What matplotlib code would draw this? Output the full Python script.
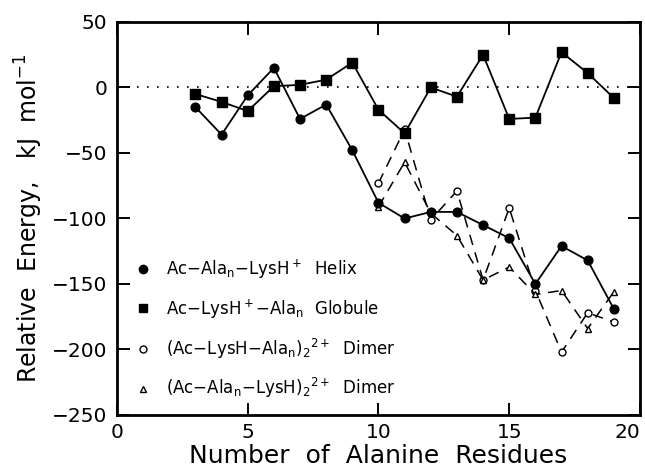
import matplotlib
matplotlib.use("Agg")
import matplotlib.pyplot as plt

plt.rcParams['font.family'] = ['DejaVu Sans']
plt.rcParams['mathtext.fontset'] = 'dejavusans'

# number of alanine residues
n_helix = [3, 4, 5, 6, 7, 8, 9, 10, 11, 12, 13, 14, 15, 16, 17, 18, 19]
e_helix = [-15, -36, -6, 15, -24, -13, -48, -88, -100, -95, -95, -105, -115, -150, -121, -132, -169]

n_globule = [3, 4, 5, 6, 7, 8, 9, 10, 11, 12, 13, 14, 15, 16, 17, 18, 19]
e_globule = [-5, -11, -18, 1, 2, 6, 19, -17, -35, 0, -7, 25, -24, -23, 27, 11, -8]

n_dimer1 = [10, 11, 12, 13, 14, 15, 16, 17, 18, 19]
e_dimer1 = [-73, -32, -101, -79, -147, -92, -155, -202, -172, -179]

n_dimer2 = [10, 11, 12, 13, 14, 15, 16, 17, 18, 19]
e_dimer2 = [-91, -57, -96, -113, -147, -137, -158, -155, -184, -156]

labels = [r'Ac$-$Ala$_\mathrm{n}$$-$LysH$^+$  Helix',
          r'Ac$-$LysH$^+$$-$Ala$_\mathrm{n}$  Globule',
          r'(Ac$-$LysH$-$Ala$_\mathrm{n}$)$_2$$^{2+}$  Dimer',
          r'(Ac$-$Ala$_\mathrm{n}$$-$LysH)$_2$$^{2+}$  Dimer']

fig = plt.figure(figsize=(6.45, 4.72), dpi=100)
ax = fig.add_axes([0.1814, 0.1208, 0.8108, 0.8326])

ax.axhline(0, color='black', linestyle=(0, (1, 5)), linewidth=1.2)

dash = (0, (7, 5))
ax.plot(n_dimer1, e_dimer1, color='black', linestyle=dash, linewidth=1.1,
        marker='o', markersize=5, markerfacecolor='white', markeredgewidth=1)
ax.plot(n_dimer2, e_dimer2, color='black', linestyle=dash, linewidth=1.1,
        marker='^', markersize=5, markerfacecolor='white', markeredgewidth=1)
ax.plot(n_helix, e_helix, color='black', linewidth=1.3, marker='o', markersize=6.3)
ax.plot(n_globule, e_globule, color='black', linewidth=1.3, marker='s', markersize=6.5)

# legend handles (markers only)
h1, = ax.plot([], [], 'o', color='black', markersize=6)
h2, = ax.plot([], [], 's', color='black', markersize=5.5)
h3, = ax.plot([], [], 'o', color='black', markerfacecolor='white', markersize=5)
h4, = ax.plot([], [], '^', color='black', markerfacecolor='white', markersize=5)
ax.legend([h1, h2, h3, h4], labels, loc='lower left', frameon=False,
          fontsize=12, handlelength=1.0, handletextpad=0.9, labelspacing=0.95,
          borderaxespad=0.0, bbox_to_anchor=(0.021, 0.02))

ax.set_xlim(0, 20)
ax.set_ylim(-250, 50)
ax.set_xticks([0, 5, 10, 15, 20])
ax.set_yticks([-250, -200, -150, -100, -50, 0, 50])
ax.set_yticklabels(['\u2212250', '\u2212200', '\u2212150', '\u2212100', '\u221250', '0', '50'])
ax.tick_params(direction='in', length=9, width=1.4, top=True, right=True, labelsize=14.5)
ax.tick_params(axis='x', pad=6)
ax.tick_params(axis='y', pad=7)
# last x label sits inside the figure edge, as in the original
ax.get_xticklabels()[-1].set_horizontalalignment('right')
for s in ax.spines.values():
    s.set_linewidth(2)

ax.set_xlabel('Number  of  Alanine  Residues', fontsize=18, labelpad=1)
ax.set_ylabel(r'Relative  Energy,   kJ  mol$^{-1}$', fontsize=17, labelpad=5)

fig.savefig('out.png', dpi=100)
